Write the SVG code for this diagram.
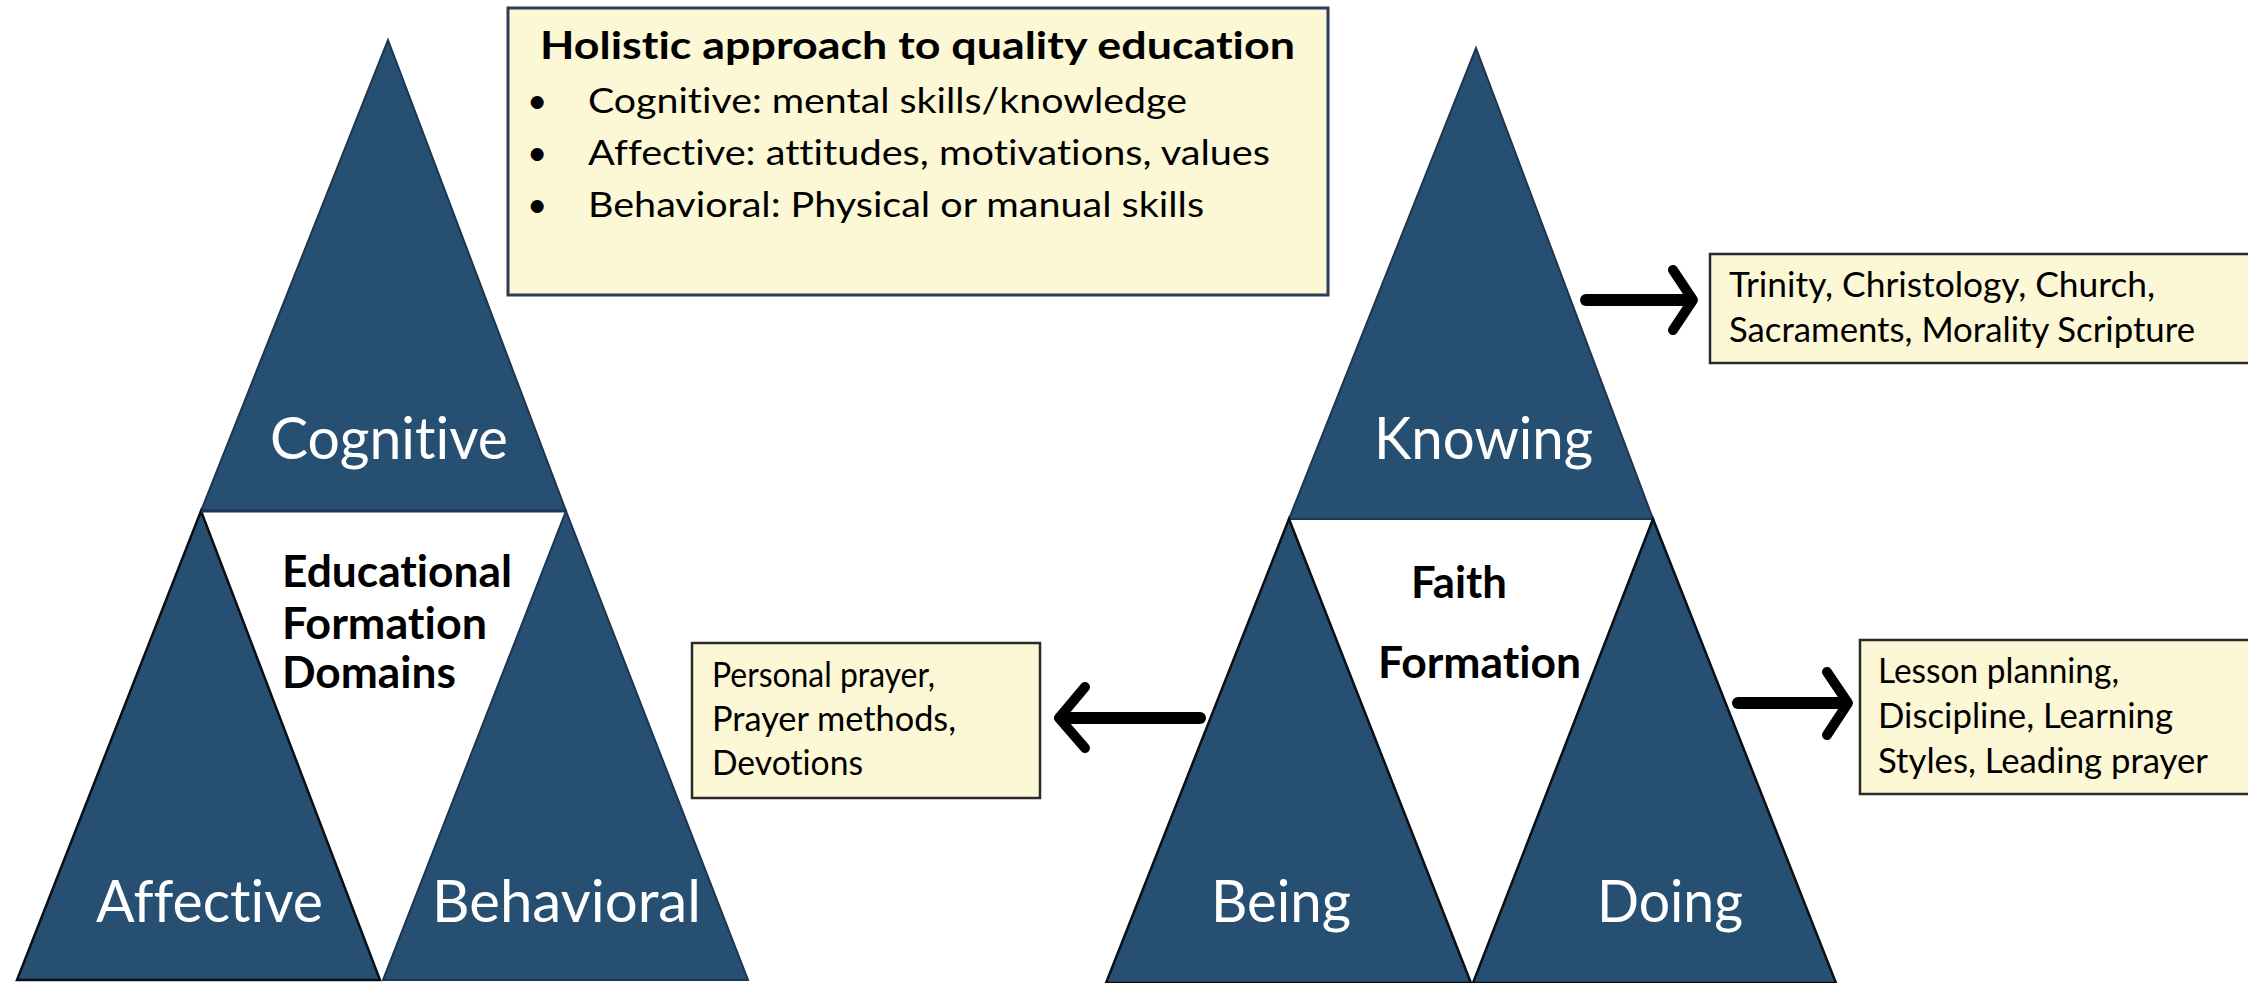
<svg xmlns="http://www.w3.org/2000/svg" width="2248" height="983" viewBox="0 0 2248 983">
<style>
text{font-variant-ligatures:none;font-feature-settings:"liga" 0,"clig" 0}
.tri{fill:#264f71;stroke:#1c3550;stroke-width:2;stroke-linejoin:miter}
.triB{fill:#264f71;stroke:#0a0f16;stroke-width:2.5}
.box{fill:#fcf7d5;stroke:#2a2a2a;stroke-width:2.5}
.box2{fill:#fcf7d5;stroke:#2b3d57;stroke-width:3}
.big{font-family:Lato,"Open Sans",sans-serif;font-size:58px;fill:#ffffff}
.bold{font-family:Lato,"Open Sans",sans-serif;font-weight:bold;font-size:43px;fill:#000000}
.title{font-family:Lato,"Open Sans",sans-serif;font-weight:bold;font-size:38px;fill:#000000}
.txt{font-family:Lato,"Open Sans",sans-serif;font-size:35px;fill:#000000}
.shaft{stroke:#000;stroke-width:12;stroke-linecap:round;fill:none}
.head{stroke:#000;stroke-width:10;stroke-linecap:round;stroke-linejoin:round;fill:none}
</style>
<rect width="2248" height="983" fill="#ffffff"/>

<g id="educational-domains">
  <g id="cognitive">
    <polygon class="tri" points="388,40 566,511 201,511"/>
    <text class="big" x="270" y="459" textLength="238" lengthAdjust="spacingAndGlyphs">Cognitive</text>
  </g>
  <g id="affective">
    <polygon class="triB" points="201,511 380,980 17,980"/>
    <text class="big" x="96" y="922" textLength="227" lengthAdjust="spacingAndGlyphs">Affective</text>
  </g>
  <g id="behavioral">
    <polygon class="tri" points="566,511 748,980 383,980"/>
    <text class="big" x="432" y="922" textLength="269" lengthAdjust="spacingAndGlyphs">Behavioral</text>
  </g>
  <line x1="201" y1="511" x2="566" y2="511" stroke="#1c3550" stroke-width="3"/>
  <g id="educational-label">
    <text class="bold" x="282" y="587" textLength="230" lengthAdjust="spacingAndGlyphs">Educational</text>
    <text class="bold" x="282" y="639" textLength="205" lengthAdjust="spacingAndGlyphs">Formation</text>
    <text class="bold" x="282" y="688" textLength="174" lengthAdjust="spacingAndGlyphs">Domains</text>
  </g>
</g>

<g id="holistic-box">
  <rect class="box2" x="508" y="8" width="820" height="287"/>
  <text class="title" x="540" y="59" textLength="755" lengthAdjust="spacingAndGlyphs">Holistic approach to quality education</text>
  <text class="txt" x="527" y="113">•</text>
  <text class="txt" x="588" y="113" textLength="599" lengthAdjust="spacingAndGlyphs">Cognitive: mental skills/knowledge</text>
  <text class="txt" x="527" y="165">•</text>
  <text class="txt" x="588" y="165" textLength="682" lengthAdjust="spacingAndGlyphs">Affective: attitudes, motivations, values</text>
  <text class="txt" x="527" y="217">•</text>
  <text class="txt" x="588" y="217" textLength="616" lengthAdjust="spacingAndGlyphs">Behavioral: Physical or manual skills</text>
</g>

<g id="faith-formation">
  <g id="knowing">
    <polygon class="tri" points="1476,48 1653,519 1289,519"/>
    <text class="big" x="1374" y="459" textLength="219" lengthAdjust="spacingAndGlyphs">Knowing</text>
  </g>
  <g id="being">
    <polygon class="triB" points="1289,519 1471,983 1106,983"/>
    <text class="big" x="1211" y="922" textLength="140" lengthAdjust="spacingAndGlyphs">Being</text>
  </g>
  <g id="doing">
    <polygon class="triB" points="1653,519 1836,983 1473,983"/>
    <text class="big" x="1597" y="922" textLength="146" lengthAdjust="spacingAndGlyphs">Doing</text>
  </g>
  <g id="faith-label">
    <text class="bold" x="1411" y="598" textLength="96" lengthAdjust="spacingAndGlyphs">Faith</text>
    <text class="bold" x="1378" y="678" textLength="203" lengthAdjust="spacingAndGlyphs">Formation</text>
  </g>
</g>

<g id="trinity-box">
  <rect class="box" x="1710" y="254" width="560" height="109"/>
  <text class="txt" x="1729" y="297" textLength="426" lengthAdjust="spacingAndGlyphs">Trinity, Christology, Church,</text>
  <text class="txt" x="1729" y="342" textLength="466" lengthAdjust="spacingAndGlyphs">Sacraments, Morality Scripture</text>
</g>

<g id="prayer-box">
  <rect class="box" x="692" y="643" width="348" height="155"/>
  <text class="txt" x="712" y="687" textLength="223" lengthAdjust="spacingAndGlyphs">Personal prayer,</text>
  <text class="txt" x="712" y="731" textLength="244" lengthAdjust="spacingAndGlyphs">Prayer methods,</text>
  <text class="txt" x="712" y="775" textLength="151" lengthAdjust="spacingAndGlyphs">Devotions</text>
</g>

<g id="lesson-box">
  <rect class="box" x="1860" y="640" width="400" height="154"/>
  <text class="txt" x="1878" y="683" textLength="241" lengthAdjust="spacingAndGlyphs">Lesson planning,</text>
  <text class="txt" x="1878" y="728" textLength="295" lengthAdjust="spacingAndGlyphs">Discipline, Learning</text>
  <text class="txt" x="1878" y="773" textLength="330" lengthAdjust="spacingAndGlyphs">Styles, Leading prayer</text>
</g>

<g id="connectors">
  <line class="shaft" x1="1586" y1="300" x2="1688" y2="300"/>
  <polyline class="head" points="1673,270 1693,300 1673,330"/>
  <line class="shaft" x1="1738" y1="703" x2="1842" y2="703"/>
  <polyline class="head" points="1827,672 1848,703 1827,735"/>
  <line class="shaft" x1="1200" y1="718" x2="1064" y2="718"/>
  <polyline class="head" points="1085,687 1059,718 1085,748"/>
</g>
</svg>
